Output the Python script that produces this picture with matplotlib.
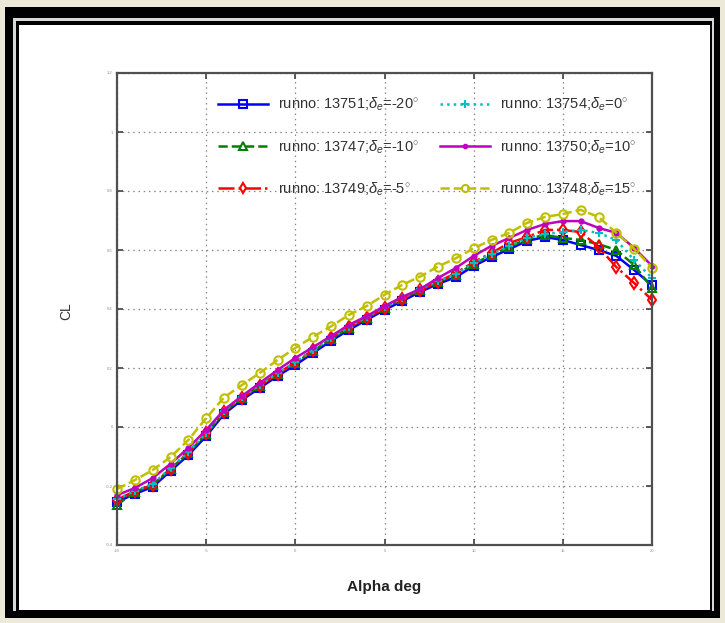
import matplotlib
matplotlib.use('Agg')
import matplotlib.pyplot as plt
from matplotlib.patches import Rectangle

# angle of attack sweep, deg
alpha = list(range(-10, 21))

# lift coefficient per run
cl_13751 = [-0.254, -0.227, -0.203, -0.149, -0.095, -0.031, 0.044, 0.092, 0.132, 0.173,
            0.210, 0.251, 0.292, 0.329, 0.363, 0.397, 0.427, 0.458, 0.485, 0.508,
            0.546, 0.576, 0.603, 0.631, 0.644, 0.634, 0.617, 0.600, 0.580, 0.532, 0.481]
cl_13747 = [-0.264, -0.220, -0.196, -0.142, -0.088, -0.024, 0.051, 0.099, 0.139, 0.180,
            0.217, 0.258, 0.299, 0.336, 0.370, 0.404, 0.434, 0.465, 0.492, 0.515,
            0.553, 0.583, 0.610, 0.638, 0.651, 0.641, 0.634, 0.620, 0.600, 0.549, 0.471]
cl_13749 = [-0.247, -0.217, -0.197, -0.142, -0.088, -0.020, 0.051, 0.098, 0.139, 0.180,
            0.220, 0.261, 0.302, 0.339, 0.369, 0.403, 0.434, 0.464, 0.492, 0.522,
            0.559, 0.590, 0.624, 0.644, 0.668, 0.668, 0.661, 0.610, 0.542, 0.488, 0.431]
cl_13754 = [-0.244, -0.217, -0.193, -0.139, -0.085, -0.021, 0.054, 0.102, 0.142, 0.183,
            0.220, 0.261, 0.302, 0.339, 0.373, 0.407, 0.437, 0.468, 0.495, 0.518,
            0.556, 0.586, 0.613, 0.641, 0.654, 0.661, 0.668, 0.658, 0.634, 0.566, 0.505]
cl_13750 = [-0.231, -0.207, -0.173, -0.125, -0.071, -0.010, 0.058, 0.105, 0.149, 0.193,
            0.234, 0.271, 0.308, 0.346, 0.376, 0.410, 0.441, 0.468, 0.505, 0.539,
            0.580, 0.614, 0.641, 0.668, 0.688, 0.698, 0.698, 0.675, 0.658, 0.607, 0.546]
cl_13748 = [-0.210, -0.180, -0.146, -0.102, -0.044, 0.030, 0.100, 0.142, 0.183, 0.227,
            0.268, 0.306, 0.341, 0.380, 0.410, 0.448, 0.482, 0.510, 0.544, 0.572,
            0.606, 0.634, 0.658, 0.692, 0.712, 0.722, 0.736, 0.712, 0.658, 0.604, 0.540]

runs = ['13751', '13747', '13749', '13754', '13750', '13748']
deflections = ['-20', '-10', '-5', '0', '10', '15']
series = [cl_13751, cl_13747, cl_13749, cl_13754, cl_13750, cl_13748]

x_ticks = [-10, -5, 0, 5, 10, 15, 20]
y_ticks = [-0.4, -0.2, 0.0, 0.2, 0.4, 0.6, 0.8, 1.0, 1.2]

styles = [
    dict(color='#0000FF', ls='-', marker='s', mfc='none'),
    dict(color='#008000', ls='--', marker='^', mfc='none'),
    dict(color='#FF0000', ls='-.', marker='d', mfc='none'),
    dict(color='#00BFBF', ls=':', marker='+', mfc='none'),
    dict(color='#BF00BF', ls='-', marker='.', mfc='#BF00BF'),
    dict(color='#BFBF00', ls='--', marker='o', mfc='none'),
]

plt.rcParams['font.family'] = ['Liberation Sans', 'DejaVu Sans']
plt.rcParams['mathtext.fontset'] = 'custom'
plt.rcParams['mathtext.rm'] = 'Liberation Sans'
plt.rcParams['mathtext.it'] = 'Liberation Sans:italic'

W, H = 725, 623
fig = plt.figure(figsize=(W / 100, H / 100), dpi=100, facecolor='#ECE9D8')


def box(x0, y0, x1, y1, color):
    fig.add_artist(Rectangle((x0 / W, 1 - y1 / H), (x1 - x0) / W, (y1 - y0) / H,
                             transform=fig.transFigure, facecolor=color,
                             edgecolor='none', zorder=-10))


# window frame
box(5, 7, 720, 618, 'black')
box(13, 18, 714, 611, '#D8D8D8')
box(16, 21, 712, 611, 'black')
box(19, 25, 710, 610, 'white')

# axes box in pixels: x 117..652, y 73..545
ax = fig.add_axes([117 / W, 1 - 545 / H, (652 - 117) / W, (545 - 73) / H])
ax.set_facecolor('white')

lines = []
for cl, st, run, de in zip(series, styles, runs, deflections):
    ln, = ax.plot(alpha, cl, lw=1.8, ms=6, mew=1.5, color=st['color'], ls=st['ls'],
                  marker=st['marker'], mfc=st['mfc'], clip_on=False,
                  label=r'runno: %s;$\delta_e$=%s$^{\circ}$' % (run, de))
    lines.append(ln)

ax.set_xlim(-10, 20)
ax.set_ylim(-0.4, 1.2)
ax.set_xticks(x_ticks)
ax.set_yticks(y_ticks)
ax.set_xticklabels([str(v) for v in x_ticks], fontsize=3, color='#888888')
ax.set_yticklabels(['%g' % v for v in y_ticks], fontsize=3, color='#888888')
ax.tick_params(direction='in', length=4, width=1.2, color='#404040',
               top=True, right=True, pad=3)
ax.grid(True, ls=(0, (1.2, 3)), color='#888888', lw=0.9)
for sp in ax.spines.values():
    sp.set_color('#505050')
    sp.set_linewidth(1.6)

ax.set_xlabel('Alpha deg', fontsize=11, fontweight='bold', color='#222222')
ax.xaxis.set_label_coords(0.5, -(587 - 545) / 472)
ax.xaxis.label.set_va('center')
ax.set_ylabel('CL', fontsize=10, color='#333333')
ax.yaxis.set_label_coords(-(117 - 66) / 535, (545 - 311) / 472)
ax.yaxis.label.set_va('center')

# two legend columns placed separately
leg_kw = dict(frameon=False, fontsize=10.5, loc='upper left', labelspacing=1.7,
              handlelength=3.4, handletextpad=0.7, borderaxespad=0, borderpad=0,
              markerscale=0.85)
leg1 = ax.legend(handles=lines[:3], bbox_to_anchor=((218 - 117) / 535, (545 - 96) / 472),
                 **leg_kw)
ax.add_artist(leg1)
leg2 = ax.legend(handles=lines[3:], bbox_to_anchor=((440 - 117) / 535, (545 - 96) / 472),
                 **leg_kw)
for leg in (leg1, leg2):
    for t in leg.get_texts():
        t.set_color('#333333')

fig.savefig('out.png', dpi=100, facecolor=fig.get_facecolor())
